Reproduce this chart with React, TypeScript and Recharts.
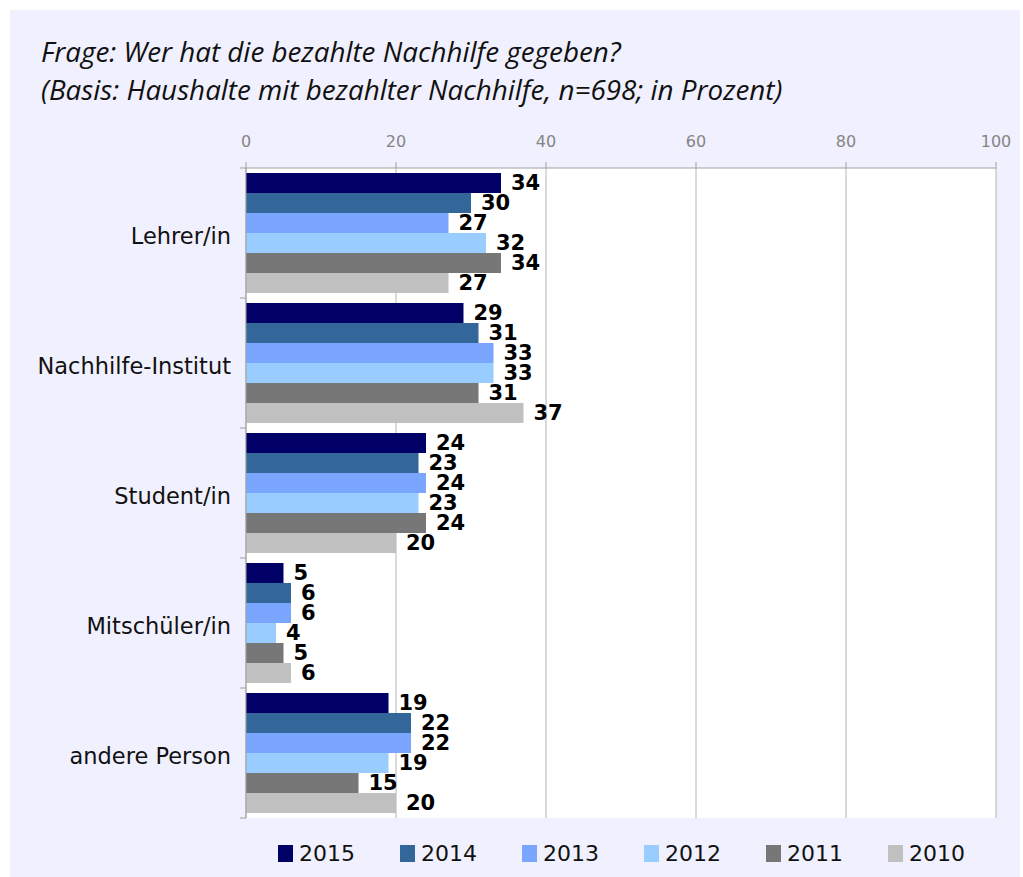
import React from 'react';
import { BarChart, Bar, XAxis, YAxis, CartesianGrid, LabelList } from 'recharts';

const categories = ['Lehrer/in', 'Nachhilfe-Institut', 'Student/in', 'Mitschüler/in', 'andere Person'];
const years = ['2015', '2014', '2013', '2012', '2011', '2010'];
const v2015 = [34, 29, 24, 5, 19];
const v2014 = [30, 31, 23, 6, 22];
const v2013 = [27, 33, 24, 6, 22];
const v2012 = [32, 33, 23, 4, 19];
const v2011 = [34, 31, 24, 5, 15];
const v2010 = [27, 37, 20, 6, 20];
const xTicks = [0, 20, 40, 60, 80, 100];
const colors = ['#000066', '#336699', '#7aa6ff', '#99ccff', '#777777', '#c0c0c0'];
const titleLines = [
  'Frage: Wer hat die bezahlte Nachhilfe gegeben?',
  '(Basis: Haushalte mit bezahlter Nachhilfe, n=698; in Prozent)',
];

const seriesValues = [v2015, v2014, v2013, v2012, v2011, v2010];
const data = categories.map((c, i) => {
  const row: Record<string, string | number> = { name: c };
  years.forEach((y, j) => {
    row[y] = seriesValues[j][i];
  });
  return row;
});

const FONT = 'DejaVu Sans, Verdana, sans-serif';
const AXIS = '#a0a0a0';

const CategoryTick = (props: any) => {
  const { x, y, payload, index } = props;
  const off = payload && typeof payload.offset === 'number' && payload.offset > 0 ? payload.offset : 65;
  return (
    <g>
      <text x={x} y={y + 11} textAnchor="end" fontFamily={FONT} fontSize={22.5} fill="#111">
        {payload.value}
      </text>
      {index === 0 && <line x1={x + 9} x2={x + 15} y1={y - off} y2={y - off} stroke={AXIS} />}
      <line x1={x + 9} x2={x + 15} y1={y + off} y2={y + off} stroke={AXIS} />
    </g>
  );
};

export default function App() {
  return (
    <div style={{ position: 'absolute', left: 0, top: 0, width: 1023, height: 877 }}>
      <div style={{ position: 'absolute', left: 10, top: 10, width: 1010, height: 867, background: '#f0f0fe' }} />
      <svg style={{ position: 'absolute', left: 0, top: 0 }} width={1023} height={120}>
        {titleLines.map((t, i) => (
          <text key={i} x={41} y={62 + i * 38} fontFamily="'Open Sans', sans-serif" fontStyle="italic" fontSize={27.8} fill="#111">
            {t}
          </text>
        ))}
      </svg>
      <div style={{ position: 'absolute', left: 0, top: 0 }}>
        <BarChart
          width={1023}
          height={877}
          data={data}
          layout="vertical"
          margin={{ top: 138, right: 27, bottom: 59, left: 0 }}
          barCategoryGap={5}
          barGap={0}
        >
          <CartesianGrid horizontal={false} vertical={true} stroke="#b4b4b4" fill="#ffffff" />
          <XAxis
            type="number"
            orientation="top"
            domain={[0, 100]}
            ticks={xTicks}
            height={30}
            tickSize={6}
            tickMargin={15}
            axisLine={{ stroke: AXIS }}
            tickLine={{ stroke: AXIS }}
            tick={{ fill: '#858585', fontSize: 16, fontFamily: FONT }}
            interval={0}
          />
          <XAxis
            xAxisId="bottom"
            type="number"
            orientation="bottom"
            domain={[0, 100]}
            height={0}
            tick={false}
            tickLine={false}
            axisLine={{ stroke: AXIS }}
          />
          <YAxis
            type="category"
            dataKey="name"
            width={246}
            tickSize={0}
            tickMargin={15}
            tickLine={false}
            axisLine={{ stroke: AXIS }}
            tick={<CategoryTick />}
            interval={0}
          />
          {years.map((y, j) => (
            <Bar key={y} dataKey={y} fill={colors[j]} isAnimationActive={false}>
              <LabelList
                dataKey={y}
                position="right"
                offset={10}
                fill="#000"
                fontSize={21}
                fontWeight="bold"
                fontFamily={FONT}
              />
            </Bar>
          ))}
        </BarChart>
      </div>
      <svg style={{ position: 'absolute', left: 0, top: 830 }} width={1023} height={47}>
        {years.map((y, j) => (
          <g key={y}>
            <rect x={278 + j * 122} y={15} width={15} height={17} fill={colors[j]} />
            <text x={299 + j * 122} y={31} fontFamily={FONT} fontSize={22} fill="#111">
              {y}
            </text>
          </g>
        ))}
      </svg>
    </div>
  );
}
